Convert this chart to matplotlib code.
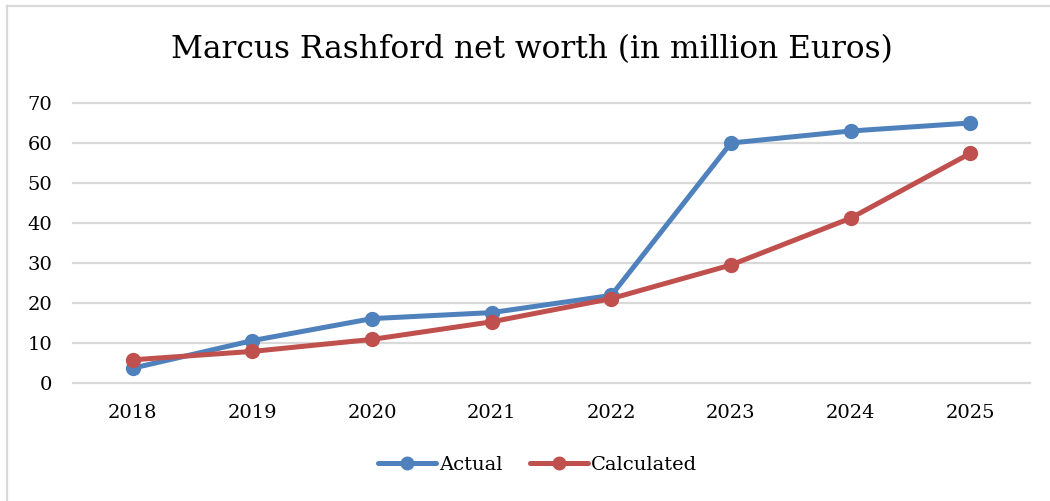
import matplotlib
matplotlib.use("Agg")
import matplotlib.pyplot as plt
from matplotlib.lines import Line2D

years = ["2018", "2019", "2020", "2021", "2022", "2023", "2024", "2025"]
actual = [3.7, 10.6, 16.1, 17.6, 21.9, 60.0, 63.0, 65.0]
calculated = [5.8, 7.9, 10.9, 15.3, 21.1, 29.5, 41.2, 57.4]
yticks = [0, 10, 20, 30, 40, 50, 60, 70]
title = "Marcus Rashford net worth (in million Euros)"
series_names = ["Actual", "Calculated"]

BLUE = "#4F81BD"
RED = "#C0504D"
GRID = "#D9D9D9"
FONT = "DejaVu Serif"

W, H = 1050, 501
fig = plt.figure(figsize=(W / 100, H / 100), dpi=100)
fig.patch.set_facecolor("white")

# outer chart border (top and left visible)
fig.add_artist(Line2D([7 / W, 1.0], [1 - 6 / H, 1 - 6 / H], color=GRID, lw=1.6, transform=fig.transFigure))
fig.add_artist(Line2D([7 / W, 7 / W], [0, 1 - 6 / H], color=GRID, lw=1.6, transform=fig.transFigure))

left, right = 73 / W, 1030 / W
bottom, top = (H - 383) / H, (H - 103) / H
ax = fig.add_axes([left, bottom, right - left, top - bottom])

x = list(range(len(years)))
ax.plot(x, actual, color=BLUE, lw=3.6, marker="o", ms=10, label=series_names[0], zorder=3,
        solid_capstyle="round", clip_on=False)
ax.plot(x, calculated, color=RED, lw=3.6, marker="o", ms=10, label=series_names[1], zorder=4,
        solid_capstyle="round", clip_on=False)

ax.set_xlim(-0.5, len(years) - 0.5)
ax.set_ylim(0, 70)
ax.set_yticks(yticks)
ax.set_yticklabels([str(v) for v in yticks], fontfamily=FONT, fontsize=14)
ax.set_xticks(x)
ax.set_xticklabels(years, fontfamily=FONT, fontsize=14)
ax.tick_params(axis="both", length=0)
ax.tick_params(axis="y", pad=15)
ax.tick_params(axis="x", pad=15)
for s in ax.spines.values():
    s.set_visible(False)
ax.grid(axis="y", color=GRID, lw=1.6)
for gl in ax.get_ygridlines():
    gl.set_clip_on(False)
ax.set_axisbelow(True)

fig.text(0.507, 1 - 50 / H, title, ha="center", va="center", fontfamily=FONT, fontsize=22.5)

leg = fig.legend(loc="center", bbox_to_anchor=(0.512, 1 - 465 / H), ncol=2, frameon=False,
                 prop={"family": FONT, "size": 14}, handlelength=3.0, handletextpad=0.15,
                 columnspacing=1.4, markerscale=0.9)

fig.savefig("out.png", dpi=100)
